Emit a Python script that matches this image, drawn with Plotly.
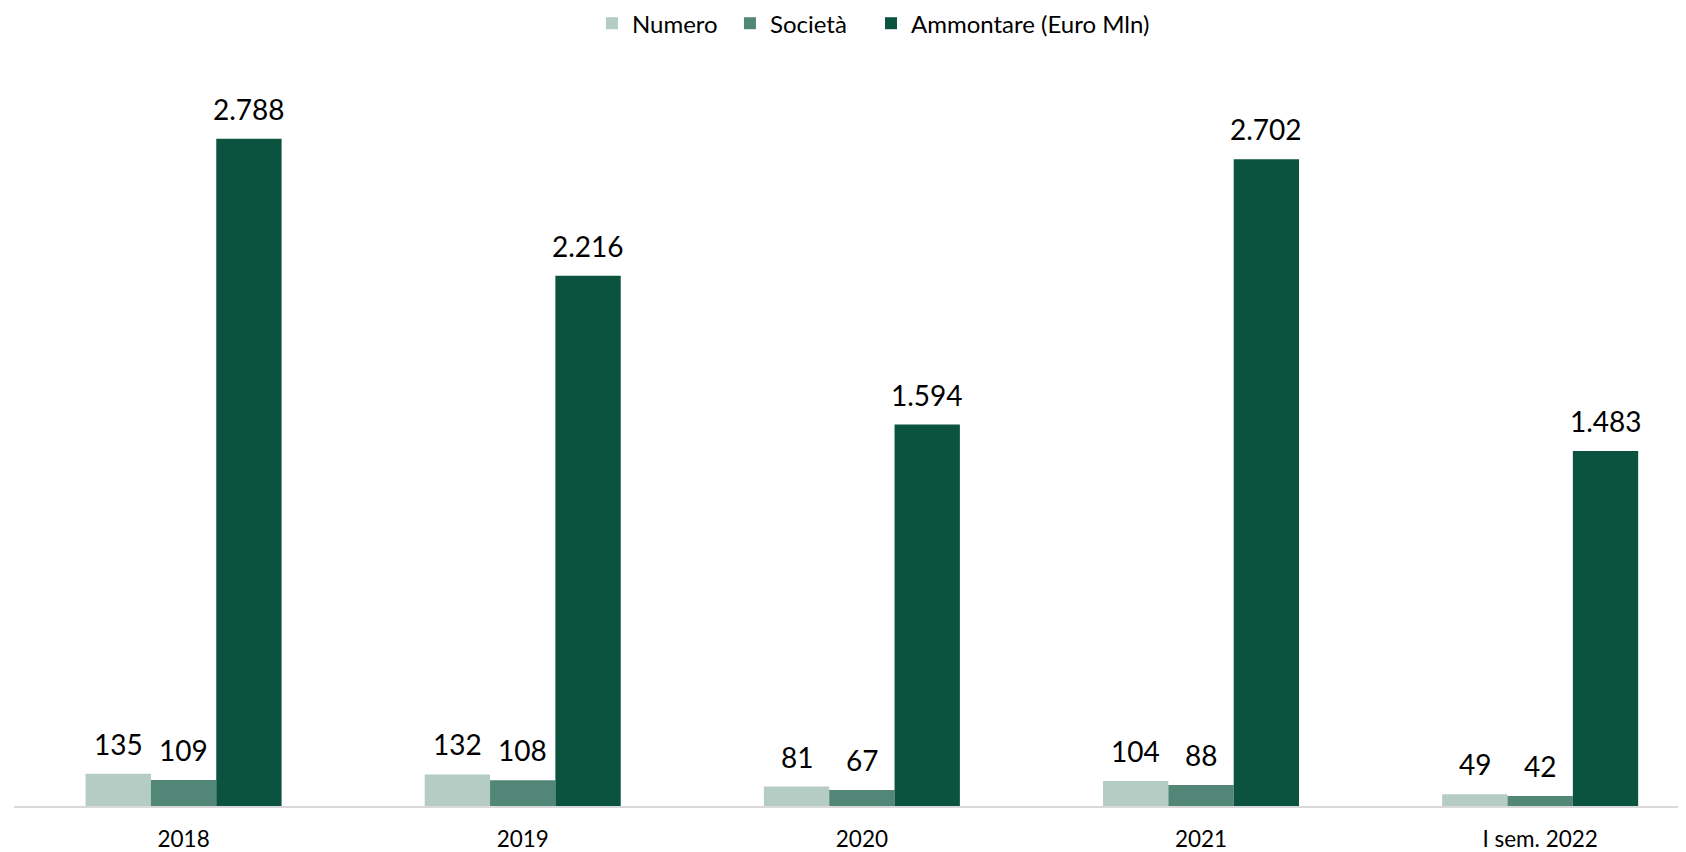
import plotly.graph_objects as go

categories = ["2018", "2019", "2020", "2021", "I sem. 2022"]
numero = [135, 132, 81, 104, 49]
societa = [109, 108, 67, 88, 42]
ammontare = [2788, 2216, 1594, 2702, 1483]

series_names = ["Numero", "Società", "Ammontare (Euro Mln)"]
series_values = [numero, societa, ammontare]
colors = ["#B5CCC4", "#528676", "#0B533E"]
legend_ids = ["legend", "legend", "legend2"]

# the html body adds an 8px margin, so the figure is 8px smaller than the window
W, H = 1678, 844
ML, MR, MT, MB = 6, 0, 52, 46
X_RANGE = [-0.5, 4.43]
Y_RANGE = [0, 3117]
BARGAP = 0.422
FONT = "Lato, 'Open Sans', sans-serif"

fig = go.Figure()
for name, vals, col, lg in zip(series_names, series_values, colors, legend_ids):
    fig.add_trace(go.Bar(x=categories, y=vals, name=name, legend=lg,
                         marker=dict(color=col, line=dict(width=0))))

# data labels
plot_w = W - ML - MR
px_per_cat = plot_w / (X_RANGE[1] - X_RANGE[0])
bar_w = px_per_cat * (1 - BARGAP) / len(series_values)
for i, vals in enumerate(series_values):
    for j, v in enumerate(vals):
        fig.add_annotation(x=j, y=v, xref="x", yref="y",
                           text=f"{v:,}".replace(",", "."),
                           showarrow=False, yanchor="bottom",
                           xshift=(i - 1) * bar_w, yshift=11,
                           font=dict(family=FONT, size=28, color="#000000"))

legend_common = dict(orientation="h", xref="container", yref="container",
                     xanchor="left", y=0.9815, yanchor="middle",
                     font=dict(family=FONT, size=24, color="#000000"),
                     itemwidth=30, traceorder="normal", bgcolor="rgba(0,0,0,0)")

fig.update_layout(
    width=W, height=H,
    margin=dict(l=ML, r=MR, t=MT, b=MB, autoexpand=False),
    barmode="group", bargap=BARGAP, bargroupgap=0,
    plot_bgcolor="white", paper_bgcolor="white",
    separators=",.",
    font=dict(family=FONT, color="#000000"),
    legend=dict(x=0.348, entrywidth=93, **legend_common),
    legend2=dict(x=0.5143, **legend_common),
    showlegend=True,
)
fig.update_xaxes(type="category", range=X_RANGE, showline=True, linecolor="#D9D9D9", linewidth=2,
                 showgrid=False, ticks="", ticklabelstandoff=12,
                 tickfont=dict(family=FONT, size=22.5, color="#000000"),
                 automargin=False, fixedrange=True)
fig.update_yaxes(range=Y_RANGE, visible=False, showgrid=False, zeroline=False,
                 automargin=False, fixedrange=True)

fig.write_html("out.html")
